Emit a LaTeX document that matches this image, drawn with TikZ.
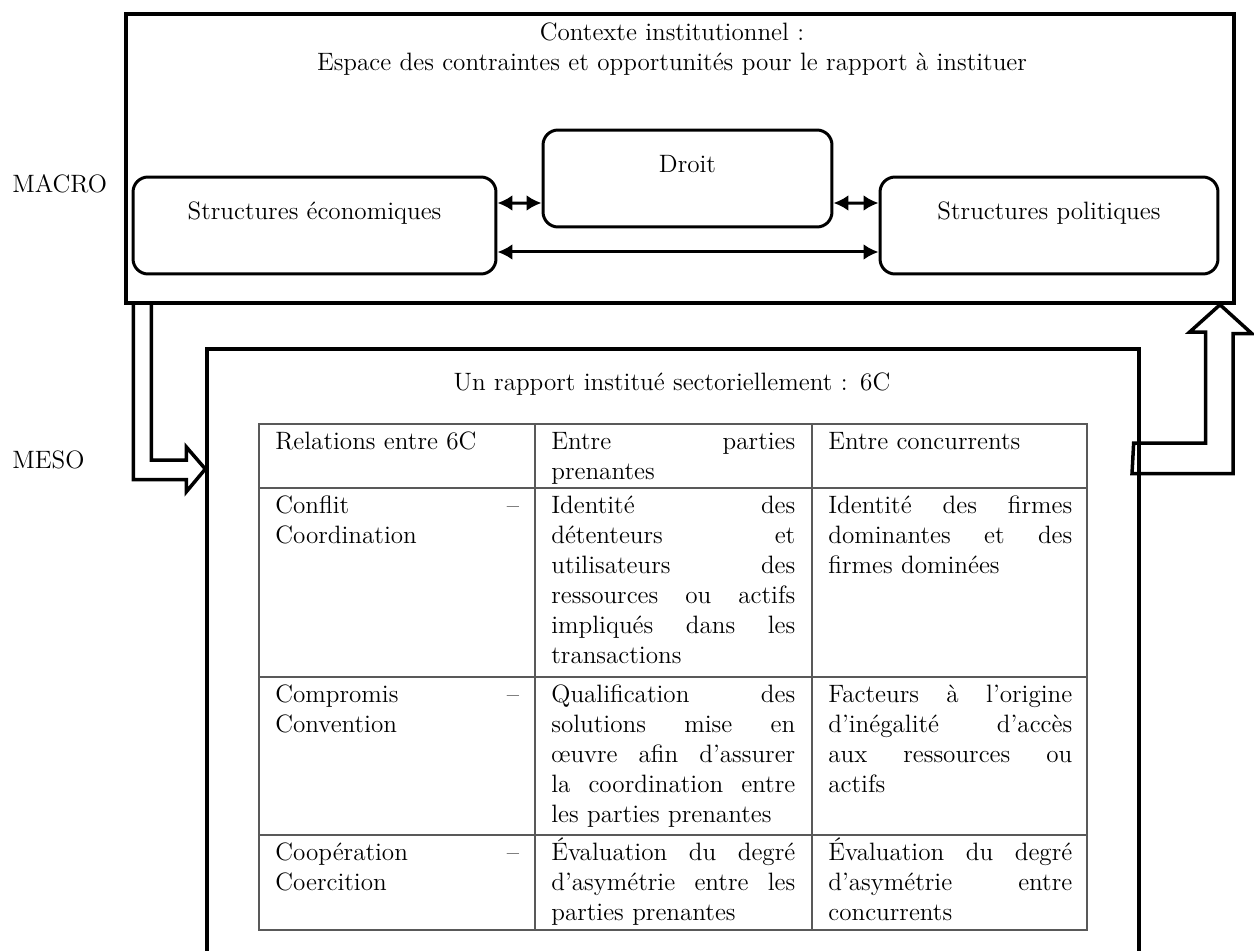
\documentclass[tikz,border=0pt]{standalone}
\usepackage{fontspec}
\usepackage{tikz}
\usetikzlibrary{arrows.meta}

\begin{document}
\begin{tikzpicture}[x=0.02cm, y=-0.02cm, font=\fontsize{14.3}{17}\selectfont]
    \tikzset{ frm/.style={draw=black, line width=0.07cm, inner sep=0pt} }
    \tikzset{ blk/.style={draw=black, line width=0.06cm, rounded corners=0.3cm, minimum height=1.94cm, text height=0.35cm, text depth=0.59cm} }
    \tikzset{ ttl/.style={anchor=north, inner sep=0pt, text width=20cm, align=center, text height=0.35cm} }
    \tikzset{ cel/.style={anchor=north west, inner sep=0pt, text width=4.88cm, align=left, text height=0.35cm} }
    \tikzset{ tbl/.style={draw=black!65, line width=0.03cm} }
    \tikzset{ barr/.style={draw=black, line width=0.07cm, line join=miter} }
    \tikzset{ lnk/.style={<->, >={Latex[length=0.3cm, width=0.32cm]}, line width=0.06cm} }

    \useasboundingbox (0,0) rectangle (1254,950);

    % levels
    \node[anchor=base west, inner sep=0pt] (lmacro) at (12,192) {MACRO};
    \node[anchor=base west, inner sep=0pt] (lmeso)  at (12,468) {MESO};

    % institutional context
    \node[frm, minimum width=22.16cm, minimum height=5.78cm] (macro) at (680,158.5) {};
    \node[ttl] (ctx) at (672,23) {Contexte institutionnel :\\Espace des contraintes et opportunités pour le rapport à instituer};

    \node[blk, minimum width=7.26cm] (eco)   at (314.5,225.5) {Structures économiques};
    \node[blk, minimum width=5.78cm] (droit) at (687.5,178.5) {Droit};
    \node[blk, minimum width=6.76cm] (pol)   at (1049,225.5)  {Structures politiques};

    \draw[lnk] ([yshift=0.45cm]eco.east)   -- ([yshift=-0.49cm]droit.west);
    \draw[lnk] ([yshift=-0.49cm]droit.east) -- ([yshift=0.45cm]pol.west);
    \draw[lnk] ([yshift=-0.53cm]eco.east)  -- ([yshift=-0.53cm]pol.west);

    % sectoral level (open at the bottom)
    \begin{scope}
      \clip (0,0) rectangle (1254,950);
      \node[frm, minimum width=18.64cm, minimum height=13.02cm] (meso) at (673,674.5) {};
    \end{scope}
    \node[ttl] (sec) at (672,373) {Un rapport institué sectoriellement : 6C};

    % table of the 6C
    \draw[tbl] (259,424) rectangle (1087,930);
    \foreach \x in {535,812} \draw[tbl] (\x,424) -- (\x,930);
    \foreach \y in {488,677,835} \draw[tbl] (259,\y) -- (1087,\y);

    \node[cel] (h1) at (275,432) {Relations entre 6C};
    \node[cel] (h2) at (551,432) {Entre \hfill parties\\prenantes};
    \node[cel] (h3) at (828,432) {Entre concurrents};

    \node[cel] (a1) at (275,496) {Conflit \hfill –\\Coordination};
    \node[cel] (a2) at (551,496) {Identité \hfill des\\détenteurs \hfill et\\utilisateurs \hfill des\\ressources \hfill ou \hfill actifs\\impliqués \hfill dans \hfill les\\transactions};
    \node[cel] (a3) at (828,496) {Identité \hfill des \hfill firmes\\dominantes \hfill et \hfill des\\firmes dominées};

    \node[cel] (b1) at (275,685) {Compromis \hfill –\\Convention};
    \node[cel] (b2) at (551,685) {Qualification \hfill des\\solutions \hfill mise \hfill en\\œuvre \hfill afin \hfill d’assurer\\la \hfill coordination \hfill entre\\les parties prenantes};
    \node[cel] (b3) at (828,685) {Facteurs \hfill à \hfill l’origine\\d’inégalité \hfill d’accès\\aux \hfill ressources \hfill ou\\actifs};

    \node[cel] (c1) at (275,843) {Coopération \hfill –\\Coercition};
    \node[cel] (c2) at (551,843) {Évaluation \hfill du \hfill degré\\d’asymétrie \hfill entre \hfill les\\parties prenantes};
    \node[cel] (c3) at (828,843) {Évaluation \hfill du \hfill degré\\d’asymétrie \hfill entre\\concurrents};

    % block arrows between the levels
    \draw[barr] (macro.south west) ++(9,0) -- ++(0,175) -- ++(53,0) -- ++(0,12) -- (meso.west |- 0,469) -- ++(-19,-22) -- ++(0,13) -- ++(-35,0) -- ++(0,-157);
    \draw[barr] (meso.east |- 0,443) ++(-7,0) -- ++(72,0) -- ++(0,-111) -- ++(-16,0) -- (1220,0 |- macro.south) -- ++(32,29) -- ++(-19,0) -- ++(0,140) -- ++(-101,0) -- cycle;
\end{tikzpicture}
\end{document}
